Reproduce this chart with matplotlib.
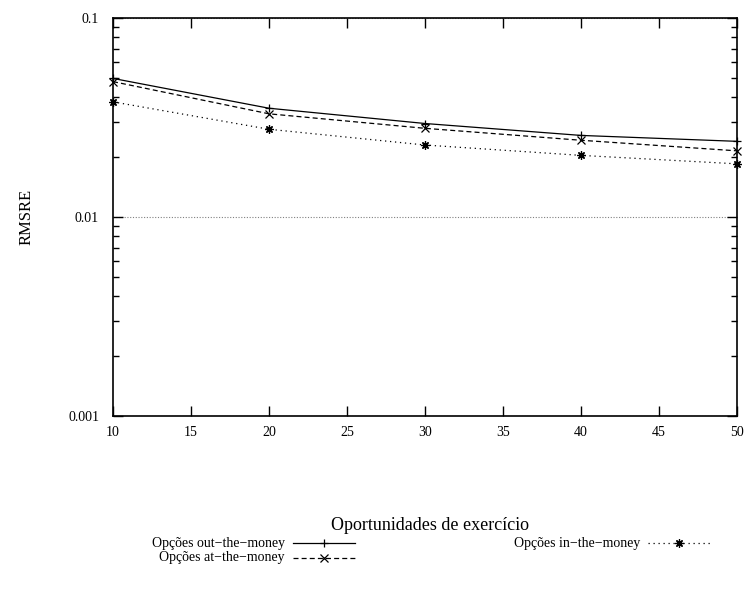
import numpy as np
import matplotlib.pyplot as plt
from matplotlib.lines import Line2D
from matplotlib.ticker import LogLocator, NullFormatter, FixedLocator

plt.rcParams['font.family'] = ['Liberation Serif', 'DejaVu Serif']

# Exercise opportunities and RMSRE per moneyness class
oportunidades = [10, 20, 30, 40, 50]
rmsre_out = [0.0497, 0.0352, 0.0295, 0.0257, 0.0240]
rmsre_at = [0.0479, 0.0330, 0.0279, 0.0243, 0.0215]
rmsre_in = [0.0379, 0.0276, 0.0230, 0.0204, 0.0185]

labels = ['Opções out\u2212the\u2212money',
          'Opções at\u2212the\u2212money',
          'Opções in\u2212the\u2212money']

W, H = 747, 592
fig = plt.figure(figsize=(W / 100, H / 100), dpi=100)
ax = fig.add_axes([113 / W, (H - 416) / H, (737 - 113) / W, (416 - 18) / H])

star = (8, 2, 0)
styles = [
    dict(linestyle='-', marker='+'),
    dict(linestyle=(0, (4, 2.5)), marker='x'),
    dict(linestyle=(0, (1, 3)), marker=star),
]
series = [rmsre_out, rmsre_at, rmsre_in]

for vals, st in zip(series, styles):
    ax.plot(oportunidades, vals, color='black', linewidth=0.9,
            markersize=6, markeredgewidth=0.9, clip_on=False, **st)

ax.set_yscale('log')
ax.set_xlim(10, 50)
ax.set_ylim(0.001, 0.1)

ax.xaxis.set_major_locator(FixedLocator(np.arange(10, 51, 5)))
ax.yaxis.set_major_locator(FixedLocator([0.001, 0.01, 0.1]))
ax.yaxis.set_major_formatter(plt.FuncFormatter(lambda v, p: f'{v:g}'))
ax.yaxis.set_minor_locator(LogLocator(base=10, subs=np.arange(2, 10)))
ax.yaxis.set_minor_formatter(NullFormatter())

ax.tick_params(which='both', direction='in', top=True, right=True,
               labelsize=10, width=1, color='black')
ax.tick_params(which='major', length=7)
ax.tick_params(axis='y', which='major', pad=10)
ax.tick_params(axis='x', which='major', pad=7)
ax.tick_params(which='minor', length=4)
ax.tick_params(axis='x', which='minor', length=0)

for sp in ax.spines.values():
    sp.set_linewidth(1.2)

ax.yaxis.grid(True, which='major', linestyle=(0, (1, 1.5)), color='gray',
              linewidth=0.8)

fig.text(27 / W, 1 - 217 / H, 'RMSRE', rotation=90, ha='center', va='center',
         fontsize=12)
fig.text(430 / W, 1 - 526 / H, 'Oportunidades de exercício', ha='center',
         va='center', fontsize=13)

# key: text on the left, line sample with a marker on the right
key = [
    (285, 543, 293, 355),
    (285, 558, 293, 355),
    (640, 543, 648, 710),
]
for (tx, ty, x0, x1), lab, st in zip(key, labels, styles):
    fig.text(tx / W, 1 - ty / H, lab, ha='right', va='center', fontsize=10)
    yk = 1 - ty / H
    fig.add_artist(Line2D([x0 / W, x1 / W], [yk, yk], color='black',
                          linewidth=0.9, linestyle=st['linestyle'],
                          transform=fig.transFigure))
    fig.add_artist(Line2D([(x0 + x1) / 2 / W], [yk], color='black',
                          marker=st['marker'], markersize=6,
                          markeredgewidth=0.9, linestyle='none',
                          transform=fig.transFigure))

fig.savefig('out.png', dpi=100)
